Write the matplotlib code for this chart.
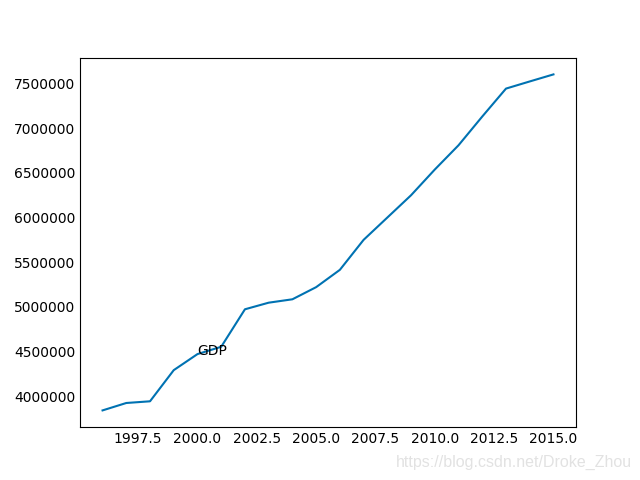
import matplotlib
matplotlib.use('Agg')
import matplotlib.pyplot as plt

# yearly GDP values
years = [1996, 1997, 1998, 1999, 2000, 2001, 2002, 2003, 2004, 2005,
         2006, 2007, 2008, 2009, 2010, 2011, 2012, 2013, 2014, 2015]
gdp = [3839000, 3922000, 3941000, 4290000, 4470000, 4552000, 4972000,
       5046000, 5084000, 5220000, 5414000, 5750000, 6000000, 6250000,
       6538000, 6810000, 7132000, 7445000, 7525000, 7604000]

fig = plt.figure(figsize=(6.4, 4.8), dpi=100)
ax = plt.gca()

plt.plot(years, gdp, color='#0072b2', linewidth=1.5)
plt.text(2000, 4500000, 'GDP', va='center', fontsize=10)

# no tick marks, plain number labels
ax.tick_params(length=0)
ax.ticklabel_format(style='plain', useOffset=False, axis='y')

# watermark bottom right
fig.text(0.9875, 0.02, 'https://blog.csdn.net/Droke_Zhou', ha='right', va='bottom',
         fontsize=11.5, color='#e2e2e2', family='Liberation Sans')

plt.savefig('out.png', dpi=100)
